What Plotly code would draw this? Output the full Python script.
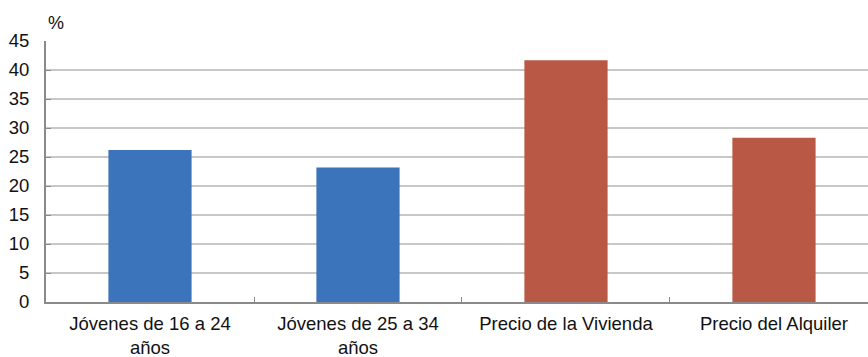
import plotly.graph_objects as go

# Categories and values (%)
categories = ["Jóvenes de 16 a 24<br>años", "Jóvenes de 25 a 34<br>años",
              "Precio de la Vivienda", "Precio del Alquiler"]
values = [26.2, 23.2, 41.7, 28.3]
bar_colors = ["#3B74BA", "#3B74BA", "#BA5846", "#BA5846"]
y_ticks = [0, 5, 10, 15, 20, 25, 30, 35, 40, 45]

font_family = "Liberation Sans, Arial, Helvetica, sans-serif"
axis_gray = "#8a8a8a"
text_color = "#111111"

fig = go.Figure(
    go.Bar(
        x=categories,
        y=values,
        marker=dict(color=bar_colors, line=dict(width=0)),
        width=0.4,
    )
)

fig.update_layout(
    width=868,
    height=357,
    margin=dict(l=46, r=0, t=41, b=55),
    paper_bgcolor="white",
    plot_bgcolor="white",
    showlegend=False,
    font=dict(family=font_family, size=18, color=text_color),
    bargap=0.6,
)

fig.update_xaxes(
    range=[-0.5, 3.452],
    showline=True,
    linecolor=axis_gray,
    linewidth=2,
    ticks="inside",
    tickson="boundaries",
    ticklen=5,
    tickcolor=axis_gray,
    tickwidth=1,
    showgrid=False,
    tickfont=dict(size=18.5),
    ticklabelstandoff=4,
)

fig.update_yaxes(
    range=[0, 45],
    tickvals=y_ticks,
    showline=True,
    linecolor=axis_gray,
    linewidth=2,
    ticks="inside",
    ticklen=5,
    tickcolor=axis_gray,
    tickwidth=1,
    showgrid=True,
    gridcolor="#c8c8c8",
    gridwidth=1.5,
    zeroline=False,
    tickfont=dict(size=18.5),
    ticklabelstandoff=11,
)

# Unit label above the value axis
fig.add_annotation(
    text="%", xref="paper", yref="paper", x=0, y=1,
    xanchor="left", yanchor="bottom", yshift=6, xshift=0,
    showarrow=False, font=dict(family=font_family, size=18, color=text_color),
)

fig.write_html("out.html")
